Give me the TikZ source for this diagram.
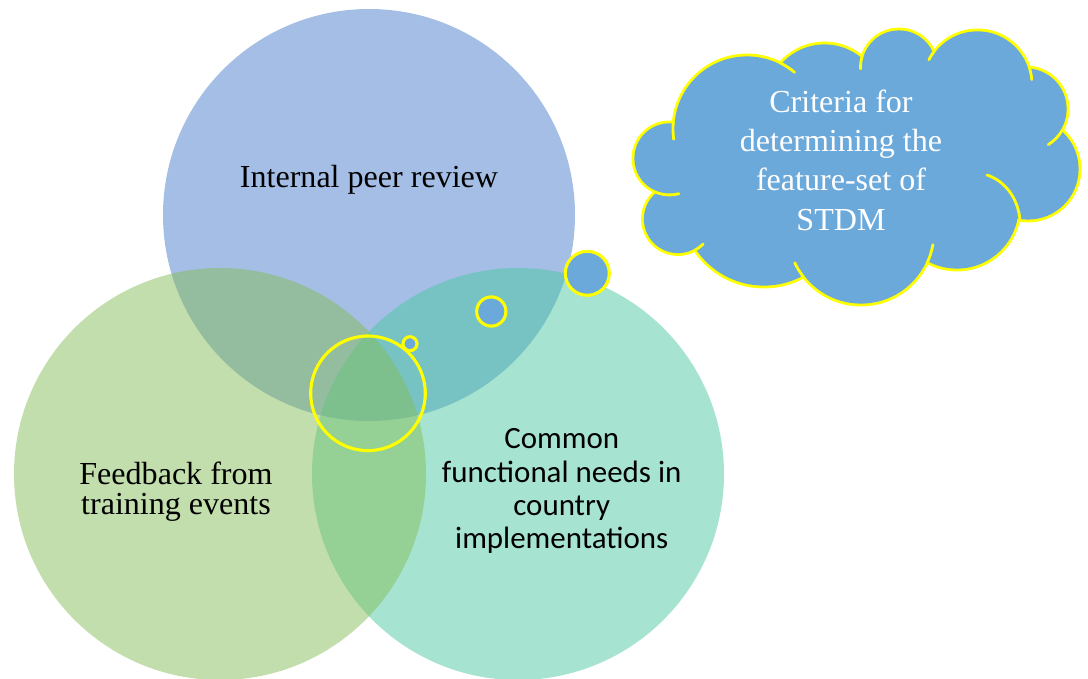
\documentclass[tikz,border=0pt]{standalone}
\usepackage{fontspec}
\setmainfont{Liberation Serif}
\newfontfamily\calibri{Carlito}
\definecolor{reviewblue}{RGB}{73, 125, 205}
\definecolor{needsteal}{RGB}{77, 199, 161}
\definecolor{feedbackgreen}{RGB}{133, 189, 90}
\definecolor{cloudblue}{RGB}{107, 169, 219}
\definecolor{rimyellow}{RGB}{255, 255, 0}
\usepackage{tikz}

% puffs of the cloud: centre x / centre y / radius
\def\puffs{747/129/74, 824.5/102/59, 899/67.5/38.5, 977.5/84.4/54.5, 1026/109/42,
  1028/169/52, 957/207/63, 861/232/73, 764/203.5/83.5, 678/219/35.5, 669.5/158.4/36.5}

\begin{document}
\begin{tikzpicture}[x=0.025cm, y=-0.025cm,
    venn/.style={fill opacity=0.5},
    venntext/.style={align=center, inner sep=0pt},
    rim/.style={draw=rimyellow, line width=2.2pt},
    tick/.style={draw=rimyellow, line width=2pt, line cap=round}]
  \useasboundingbox (0,0) rectangle (1088,679);
  \clip (0,0) rectangle (1088,679);

  \fill[reviewblue, venn] (369,215) circle[radius=206];
  \fill[needsteal, venn] (518,474) circle[radius=206];
  \fill[feedbackgreen, venn] (220,474) circle[radius=206];

  \node[venntext, font=\fontsize{22.8}{28}\selectfont] (review) at (369,180) {Internal peer review};
  \node[venntext, font=\fontsize{22.8}{21.3}\selectfont] (feedback) at (176,491.5) {Feedback from\\training events};
  \node[venntext, font=\calibri\fontsize{22}{23.7}\selectfont] (needs) at (561.7,491.4) {Common\\functional needs in\\country\\implementations};

  % cloud: yellow rim first, then the blue body over its inner half
  \foreach \cx/\cy/\r in \puffs
    \draw[draw=rimyellow, line width=4pt] (\cx,\cy) circle[radius=\r-1.4];
  \fill[cloudblue] (747,129) -- (824.5,102) -- (899,67.5) -- (977.5,84.4) -- (1026,109) -- (1028,169)
    -- (957,207) -- (861,232) -- (764,203.5) -- (678,219) -- (669.5,158.4) -- cycle;
  \foreach \cx/\cy/\r in \puffs
    \fill[cloudblue] (\cx,\cy) circle[radius=\r-1.4];
  \foreach \cx/\cy/\r/\a/\b in {747/129/74/185/172, 669.5/158.4/36.5/113/75, 678/219/35.5/62/45,
      861/232/73/142/155, 861/232/73/25/10, 1026/109/42/30/58, 977.5/84.4/54.5/-18.5/-5,
      977.5/84.4/54.5/217/207, 899/67.5/38.5/196/178, 747/129/74/-63/-50}
    \draw[tick] (\cx,\cy) ++(\a:\r) arc[start angle=\a, end angle=\b, radius=\r];
  \draw[tick] (987,175) .. controls (1005,181) and (1018,198) .. (1020,220);

  \node[venntext, text=white, font=\fontsize{22.8}{28}\selectfont] (criteria) at (841,160) {Criteria for\\determining the\\feature-set of\\STDM};

  \draw[rim] (368,393.3) circle[radius=57.3];
  \draw[rim, fill=cloudblue] (410,343.7) circle[radius=7];
  \draw[rim, fill=cloudblue] (491.3,311.5) circle[radius=14.6];
  \draw[rim, fill=cloudblue] (587.3,273.3) circle[radius=22];
\end{tikzpicture}
\end{document}
